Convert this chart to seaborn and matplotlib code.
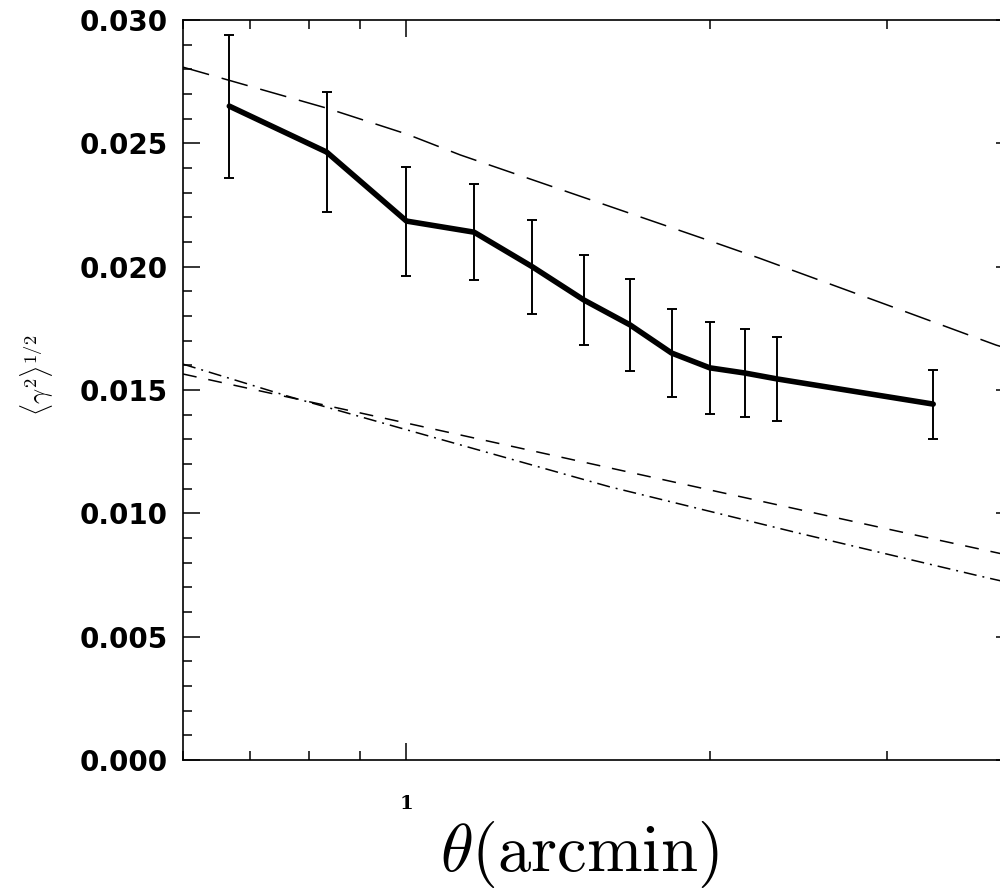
import numpy as np
import pandas as pd
import matplotlib
matplotlib.use("Agg")
import matplotlib.pyplot as plt
import seaborn as sns
from matplotlib.ticker import MultipleLocator, FixedLocator, NullFormatter, FixedFormatter

# ---- data ----
theta = [0.667, 0.833, 1.0, 1.167, 1.333, 1.5, 1.667, 1.833, 2.0, 2.167, 2.333, 3.333]
shear = [0.02651, 0.02465, 0.02185, 0.0214, 0.0200, 0.01865, 0.01764, 0.0165,
         0.0159, 0.01569, 0.01545, 0.01443]
shear_err = [0.0029, 0.00243, 0.00221, 0.00195, 0.0019, 0.00184, 0.00185, 0.0018,
             0.00187, 0.0018, 0.0017, 0.0014]

model_long_x = [0.6, 0.833, 1.0, 1.131, 2.0, 2.239, 3.0, 3.85, 4.0]
model_long_y = [0.02809, 0.02643, 0.02538, 0.02453, 0.02105, 0.02035, 0.01845, 0.01682, 0.01662]

model_dash_x = [0.6, 1.0, 2.0, 3.0, 4.0]
model_dash_y = [0.01565, 0.01366, 0.01095, 0.00937, 0.00826]

model_dot_x = [0.6, 0.767, 1.0, 1.59, 2.45, 3.67, 4.0]
model_dot_y = [0.01605, 0.01472, 0.01339, 0.01108, 0.0092, 0.0075, 0.00715]

y_ticks = [0.000, 0.005, 0.010, 0.015, 0.020, 0.025, 0.030]
x_tick = [1]
x_tick_labels = ["1"]

# ---- style ----
sns.set_theme(style="white")
plt.rcParams["font.family"] = ["DejaVu Sans"]
plt.rcParams["mathtext.fontset"] = "cm"
plt.rcParams["lines.scale_dashes"] = False
plt.rcParams["text.color"] = "black"
plt.rcParams["xtick.color"] = "black"
plt.rcParams["ytick.color"] = "black"
plt.rcParams["xtick.labelcolor"] = "black"
plt.rcParams["ytick.labelcolor"] = "black"

fig = plt.figure(figsize=(10, 8.91), dpi=100)
ax = fig.add_axes([0.183, 0.147, 0.83, 0.8305])

sns.lineplot(x=model_long_x, y=model_long_y, ax=ax, color="black", lw=1.1,
             linestyle=(0, (19.5, 9.4)), sort=True, errorbar=None)
sns.lineplot(x=model_dash_x, y=model_dash_y, ax=ax, color="black", lw=1.1,
             linestyle=(0, (10, 8.6)), sort=True, errorbar=None)
sns.lineplot(x=model_dot_x, y=model_dot_y, ax=ax, color="black", lw=1.1,
             linestyle=(0, (9.4, 4.3, 1.4, 4.3)), sort=True, errorbar=None)

df = pd.DataFrame({"theta": theta, "shear": shear, "err": shear_err})
sns.lineplot(data=df, x="theta", y="shear", ax=ax, color="black", lw=4.0,
             errorbar=None, solid_joinstyle="round")
ax.errorbar(df["theta"], df["shear"], yerr=df["err"], fmt="none", ecolor="black",
            elinewidth=1.4, capsize=3.5, capthick=1.4)

ax.set_xscale("log")
ax.set_xlim(0.6, 4.0)
ax.set_ylim(0.0, 0.030)

ax.xaxis.set_major_locator(FixedLocator(x_tick))
ax.xaxis.set_major_formatter(FixedFormatter(x_tick_labels))
ax.xaxis.set_minor_locator(FixedLocator([0.6, 0.7, 0.8, 0.9, 2, 3, 4]))
ax.xaxis.set_minor_formatter(NullFormatter())
ax.yaxis.set_major_locator(FixedLocator(y_ticks))
ax.yaxis.set_minor_locator(MultipleLocator(0.001))
ax.set_yticklabels([f"{v:.3f}" for v in y_ticks])

ax.tick_params(which="both", direction="in", top=True, right=True, bottom=True, left=True,
               color="black", labelcolor="black", width=1.1)
ax.tick_params(which="major", length=12)
ax.tick_params(which="minor", length=6.5)
ax.tick_params(axis="y", which="major", pad=11, labelsize=20)
ax.tick_params(axis="x", which="major", pad=25, labelsize=14)
for lab in ax.get_yticklabels():
    lab.set_fontweight("bold")
for lab in ax.get_xticklabels():
    lab.set_fontweight("bold")
    lab.set_family("DejaVu Serif")

for sp in ax.spines.values():
    sp.set_color("black")
    sp.set_linewidth(1.2)

ax.set_xlabel("")
ax.set_ylabel("")
ax.grid(False)

fig.text(0.037, 0.579, r"$\langle\gamma^2\rangle^{1/2}$", rotation=90, ha="center",
         va="center", fontsize=19, color="black")
fig.text(0.579, 0.022, r"$\theta(\mathrm{arcmin})$", ha="center", va="baseline",
         fontsize=48, color="black")

fig.savefig("out.png", dpi=100, facecolor="white")
